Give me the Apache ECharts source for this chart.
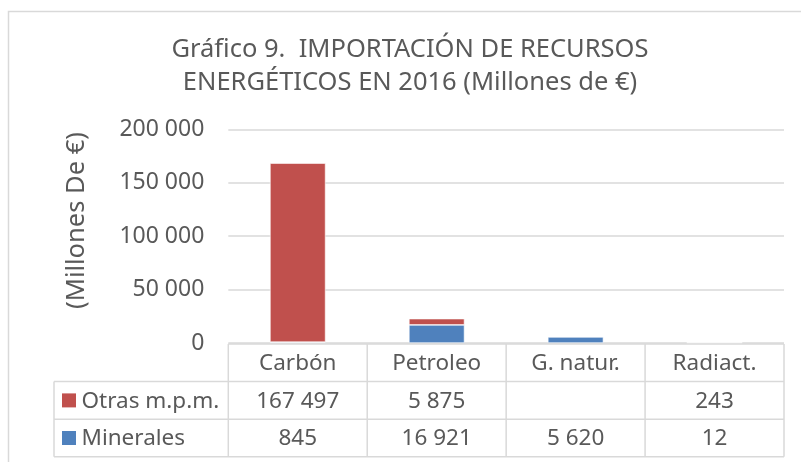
<!DOCTYPE html>
<html>
<head>
<meta charset="utf-8">
<script src="https://cdn.jsdelivr.net/npm/echarts@6/dist/echarts.min.js"></script>
<style>
html,body{margin:0;padding:0;background:#fff;}
#c{width:801px;height:462px;}
</style>
</head>
<body>
<div id="c"></div>
<script>
const titleLines = ['Gráfico 9.  IMPORTACIÓN DE RECURSOS', 'ENERGÉTICOS EN 2016 (Millones de €)'];
const yAxisName = '(Millones De €)';
const categories = ['Carbón', 'Petroleo', 'G. natur.', 'Radiact.'];
const otrasName = 'Otras m.p.m.';
const mineralesName = 'Minerales';
const otras = [167497, 5875, null, 243];
const minerales = [845, 16921, 5620, 12];
const yMin = 0, yMax = 200000, yInterval = 50000;

const RED = '#C0504D', BLUE = '#4F81BD', TXT = '#595959', LINE = '#D9D9D9';
const FONT = '"Noto Sans", "Liberation Sans", sans-serif';

function fmt(n) {
  if (n === null || n === undefined) return '';
  return String(n).replace(/\B(?=(\d{3})+(?!\d))/g, ' ');
}

const chart = echarts.init(document.getElementById('c'), null, {renderer: 'canvas'});

chart.setOption({
  animation: false,
  backgroundColor: '#fff',
  textStyle: {fontFamily: FONT},
  title: {
    text: titleLines.join('\n'),
    left: 405, top: 28, textAlign: 'center',
    textStyle: {fontFamily: FONT, fontSize: 25.5, fontWeight: 'normal', color: TXT, lineHeight: 33}
  },
  grid: {left: 228.3, right: 17, top: 129.3, bottom: 119, containLabel: false},
  xAxis: {
    type: 'category', data: categories,
    axisLine: {show: false}, axisTick: {show: false}, axisLabel: {show: false}
  },
  yAxis: {
    type: 'value', min: yMin, max: yMax, interval: yInterval,
    axisLine: {show: false}, axisTick: {show: false},
    axisLabel: {formatter: v => fmt(v), color: TXT, fontSize: 23, fontFamily: FONT, margin: 24},
    splitLine: {lineStyle: {color: LINE, width: 1.5}}
  },
  series: [
    {name: mineralesName, type: 'bar', stack: 'a', data: minerales, barWidth: '40%',
     itemStyle: {color: BLUE, borderColor: '#fff', borderWidth: 0.6}},
    {name: otrasName, type: 'bar', stack: 'a', data: otras, barWidth: '40%',
     itemStyle: {color: RED, borderColor: '#fff', borderWidth: 0.6}}
  ]
});

function buildGraphics() {
  const c0 = chart.convertToPixel({xAxisIndex: 0}, 0);
  const c1 = chart.convertToPixel({xAxisIndex: 0}, 1);
  const bw = c1 - c0;
  const y0 = chart.convertToPixel({yAxisIndex: 0}, 0) + 1;
  const rowH = 37.6;
  const labelLeft = 54;
  const left = c0 - bw / 2;
  const right = left + bw * categories.length;
  const els = [];
  const line = (x1, y1, x2, y2) => els.push({
    type: 'line', z: 100, shape: {x1, y1, x2, y2},
    style: {stroke: LINE, lineWidth: 1.5}
  });
  const text = (t, x, y, align) => els.push({
    type: 'text', z: 101, x, y,
    style: {text: t, fill: TXT, fontSize: 22.5, fontFamily: FONT, align: align || 'center', verticalAlign: 'middle'}
  });
  // outer chart border
  els.push({type: 'rect', z: 0, shape: {x: 8.5, y: 11.5, width: 820, height: 480},
            style: {fill: 'none', stroke: LINE, lineWidth: 1.5}});
  // horizontal lines
  line(left, y0, right, y0);
  line(labelLeft, y0 + rowH, right, y0 + rowH);
  line(labelLeft, y0 + 2 * rowH, right, y0 + 2 * rowH);
  line(labelLeft, y0 + 3 * rowH, right, y0 + 3 * rowH);
  // vertical lines
  for (let i = 0; i <= categories.length; i++) {
    line(left + i * bw, y0, left + i * bw, y0 + 3 * rowH);
  }
  line(labelLeft, y0 + rowH, labelLeft, y0 + 3 * rowH);
  // header
  categories.forEach((c, i) => text(c, left + (i + 0.5) * bw, y0 + rowH / 2 + 1));
  // rows
  const rows = [[otrasName, otras, RED], [mineralesName, minerales, BLUE]];
  rows.forEach((r, k) => {
    const cy = y0 + rowH * (k + 1.5);
    els.push({type: 'rect', z: 101, shape: {x: labelLeft + 8, y: cy - 7, width: 14, height: 14},
              style: {fill: r[2]}});
    text(r[0], labelLeft + 27.5, cy + 1, 'left');
    r[1].forEach((v, i) => text(fmt(v), left + (i + 0.5) * bw, cy + 1));
  });
  // y axis name
  els.push({type: 'text', z: 101, x: 77, y: 220.5, rotation: Math.PI / 2,
            style: {text: yAxisName, fill: TXT, fontSize: 25.5, fontFamily: FONT, align: 'center', verticalAlign: 'middle'}});
  chart.setOption({graphic: els});
}
buildGraphics();
</script>
</body>
</html>
